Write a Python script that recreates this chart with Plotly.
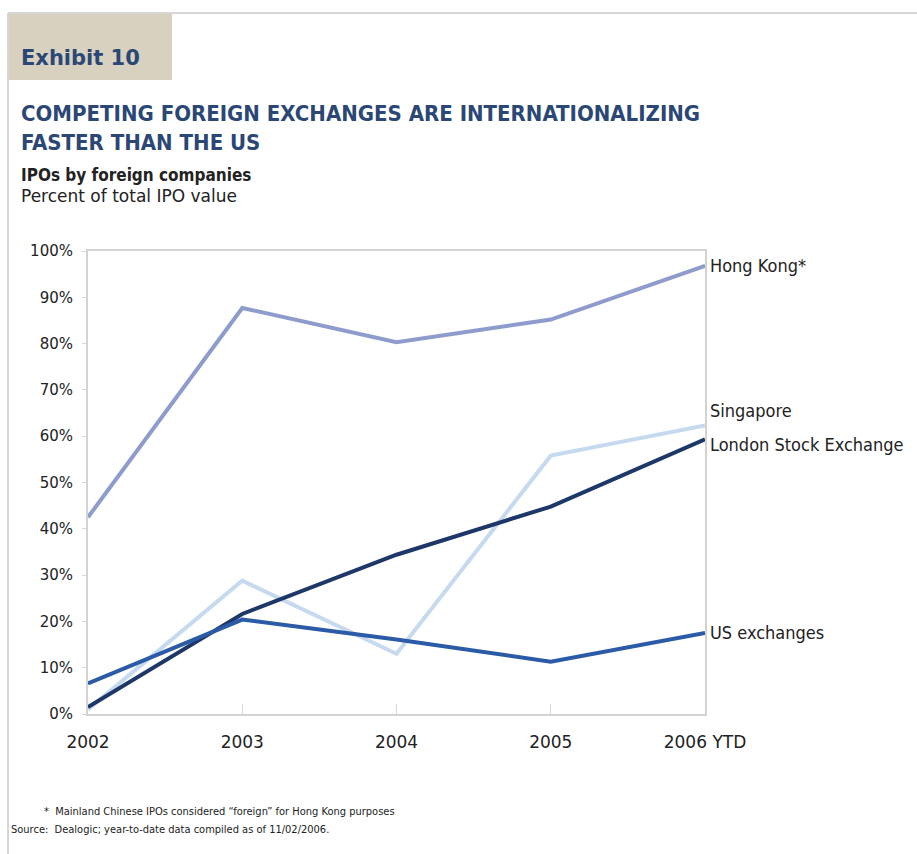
import plotly.graph_objects as go

years = ["2002", "2003", "2004", "2005", "2006 YTD"]
hong_kong = [42.5, 87.7, 80.3, 85.2, 96.8]
singapore = [1.0, 28.8, 13.0, 55.8, 62.3]
london = [1.5, 21.6, 34.4, 44.8, 59.3]
us_exch = [6.6, 20.4, 16.1, 11.3, 17.5]

series_names = ["Hong Kong*", "Singapore", "London Stock Exchange", "US exchanges"]
series_vals = [hong_kong, singapore, london, us_exch]
colors = ["#8e9ccd", "#c6daef", "#1e3769", "#2b5ba6"]
label_shift = [0, 15, -5, 0]

y_ticks = [0, 10, 20, 30, 40, 50, 60, 70, 80, 90, 100]

NARROW = "DejaVu Sans Condensed, Liberation Sans Narrow, sans-serif"
WIDE = "DejaVu Sans, Verdana, sans-serif"
NAVY = "#2a4775"

fig = go.Figure()
xs = list(range(len(years)))
for name, vals, col in zip(series_names, series_vals, colors):
    fig.add_trace(go.Scatter(x=xs, y=vals, mode="lines", name=name,
                             line=dict(color=col, width=4), showlegend=False,
                             hoverinfo="skip"))

for name, vals, shift in zip(series_names, series_vals, label_shift):
    fig.add_annotation(x=xs[-1], y=vals[-1], xref="x", yref="y", text=name,
                       showarrow=False, xanchor="left", yanchor="middle",
                       xshift=3, yshift=shift,
                       font=dict(family=NARROW, size=18, color="#222222"))

fig.update_xaxes(range=[0, len(years) - 1], tickvals=xs, ticktext=years,
                 showgrid=False, zeroline=False, showline=True, mirror=True,
                 linecolor="#d2d2d2", linewidth=2, ticks="inside", ticklen=10,
                 tickcolor="#d8d8d8", ticklabelstandoff=12,
                 tickfont=dict(family=WIDE, size=17, color="#222222"))
fig.update_yaxes(range=[0, 100], tickvals=y_ticks, ticktext=[f"{v}%" for v in y_ticks],
                 showgrid=False, zeroline=False, showline=True, mirror=True,
                 linecolor="#d2d2d2", linewidth=2, ticks="outside", ticklen=4,
                 tickcolor="#d8d8d8", ticklabelstandoff=6,
                 tickfont=dict(family=WIDE, size=15, color="#222222"))

fig.update_layout(
    width=917, height=854,
    margin=dict(l=88, r=212, t=251, b=140),
    paper_bgcolor="white", plot_bgcolor="white",
)

# Page decorations in pixel-based paper coordinates
pl, pr, pt, pb = 88, 917 - 212, 251, 854 - 140
pw, ph = pr - pl, pb - pt

def px(x):
    return (x - pl) / pw

def py(y):
    return (pb - y) / ph

fig.add_shape(type="rect", xref="paper", yref="paper",
              x0=px(8), x1=px(172), y0=py(80), y1=py(13),
              fillcolor="#d9d1c0", line=dict(width=0), layer="below")
fig.add_shape(type="line", xref="paper", yref="paper",
              x0=px(8), x1=px(917), y0=py(13), y1=py(13),
              line=dict(color="#d6d6d6", width=2))
fig.add_shape(type="line", xref="paper", yref="paper",
              x0=px(8), x1=px(8), y0=py(13), y1=py(854),
              line=dict(color="#d6d6d6", width=2))

def text(x, y, s, size, family, color="#222222", bold=False):
    if bold:
        s = f"<b>{s}</b>"
    fig.add_annotation(x=px(x), y=py(y), xref="paper", yref="paper", text=s,
                       showarrow=False, xanchor="left", yanchor="middle",
                       font=dict(family=family, size=size, color=color))

text(19, 58, "Exhibit 10", 21, WIDE, NAVY, bold=True)
text(19, 114, "COMPETING FOREIGN EXCHANGES ARE INTERNATIONALIZING", 22, NARROW, NAVY, bold=True)
text(19, 142, "FASTER THAN THE US", 22, NARROW, NAVY, bold=True)
text(19, 175, "IPOs by foreign companies", 17, NARROW, "#222222", bold=True)
text(19, 196, "Percent of total IPO value", 17, WIDE, "#222222")
text(42, 811, "*  Mainland Chinese IPOs considered \u201cforeign\u201d for Hong Kong purposes", 11, NARROW)
text(9, 829, "Source:  Dealogic; year-to-date data compiled as of 11/02/2006.", 11, NARROW)

fig.write_html("out.html")
